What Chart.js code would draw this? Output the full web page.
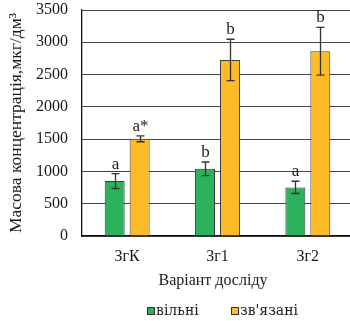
<!DOCTYPE html>
<html>
<head>
<meta charset="utf-8">
<script src="https://cdn.jsdelivr.net/npm/chart.js@4/dist/chart.umd.min.js"></script>
<style>
  html, body { margin: 0; padding: 0; background: #fff; overflow: hidden; }
  #wrap { width: 360px; height: 321px; }
</style>
</head>
<body>
<div id="wrap"><canvas id="c" width="360" height="321"></canvas></div>
<script>
// Variants of the experiment
const categories = ['ЗгК', 'Зг1', 'Зг2'];
const seriesNames = ['вільні', "зв'язані"];

// Mass concentration, µg/dm³
const freeValues = [851, 1041, 753];
const freeErrors = [115, 105, 95];
const boundValues = [1505, 2727, 2861];
const boundErrors = [45, 320, 370];

// Significance letters above each bar
const freeLetters = ['a', 'b', 'a'];
const boundLetters = ['a*', 'b', 'b'];

// Value axis
const yMin = 0, yMax = 3500, yStep = 500;

const axisTitleY = 'Масова концентрація,мкг/дм³';
const axisTitleX = 'Варіант досліду';

const SERIF = '"Liberation Serif", "Times New Roman", serif';
const LEGEND_FONT = '"DejaVu Serif", serif';
const INK = '#1a1a1a';
const colors = ['#2cb25c', '#fdbb27'];

const errorBarsAndLetters = {
  id: 'errorBarsAndLetters',
  afterDatasetsDraw(chart) {
    const ctx = chart.ctx;
    const y = chart.scales.y;
    const errs = [freeErrors, boundErrors];
    const letters = [freeLetters, boundLetters];
    chart.data.datasets.forEach((ds, di) => {
      const meta = chart.getDatasetMeta(di);
      meta.data.forEach((bar, i) => {
        const v = ds.data[i];
        const e = errs[di][i];
        const yTop = y.getPixelForValue(v + e);
        const yBot = y.getPixelForValue(v - e);
        const x = Math.round(bar.x) + 0.5;
        ctx.save();
        ctx.strokeStyle = '#333';
        ctx.lineWidth = 1.3;
        ctx.beginPath();
        ctx.moveTo(x, yTop); ctx.lineTo(x, yBot);
        ctx.moveTo(x - 4, yTop); ctx.lineTo(x + 4, yTop);
        ctx.moveTo(x - 4, yBot); ctx.lineTo(x + 4, yBot);
        ctx.stroke();
        ctx.fillStyle = INK;
        ctx.font = '17px ' + SERIF;
        ctx.textAlign = 'center';
        ctx.textBaseline = 'alphabetic';
        ctx.fillText(letters[di][i], x, yTop - 5);
        ctx.restore();
      });
    });
  },
  afterDraw(chart) {
    const ctx = chart.ctx;
    ctx.save();
    ctx.fillStyle = INK;
    ctx.font = '16px ' + SERIF;
    ctx.textAlign = 'center';
    ctx.textBaseline = 'middle';
    ctx.fillText(axisTitleX, 213, 281);
    // legend
    const keyX = [147, 231];
    chart.data.datasets.forEach((ds, di) => {
      const kx = keyX[di];
      ctx.fillStyle = ds.backgroundColor;
      ctx.fillRect(kx + 0.5, 307.5, 7, 7);
      ctx.strokeStyle = '#333';
      ctx.lineWidth = 1;
      ctx.strokeRect(kx + 0.5, 307.5, 7, 7);
      ctx.fillStyle = INK;
      ctx.textAlign = 'left';
      ctx.font = '14px ' + LEGEND_FONT;
      ctx.fillText(ds.label, kx + 9, 311);
    });
    ctx.restore();
  }
};

new Chart(document.getElementById('c'), {
  type: 'bar',
  data: {
    labels: categories,
    datasets: [
      { label: seriesNames[0], data: freeValues, backgroundColor: colors[0],
        borderColor: '#3a3a3a', borderWidth: 1 },
      { label: seriesNames[1], data: boundValues, backgroundColor: colors[1],
        borderColor: '#3a3a3a', borderWidth: 1 }
    ]
  },
  options: {
    responsive: false,
    animation: false,
    devicePixelRatio: 1,
    categoryPercentage: 0.5525,
    barPercentage: 0.8,
    layout: { padding: { left: 0, right: 7, top: 10, bottom: 0 } },
    plugins: {
      legend: { display: false },
      tooltip: { enabled: false }
    },
    scales: {
      x: {
        grid: { display: false, drawTicks: false },
        border: { color: '#111', width: 1.3 },
        ticks: { color: INK, font: { family: SERIF, size: 16 }, padding: 11, maxRotation: 0 },
        afterFit(scale) { scale.height = 85; scale.paddingLeft = 0; scale.paddingRight = 0; }
      },
      y: {
        min: yMin, max: yMax,
        grid: { color: '#444', lineWidth: 1, drawTicks: false },
        border: { color: '#111', width: 1.3 },
        ticks: { stepSize: yStep, color: INK, font: { family: SERIF, size: 16 }, padding: 14,
                 callback: (v) => String(v) },
        title: { display: true, text: axisTitleY, color: INK,
                 font: { family: SERIF, size: 17.5 }, padding: { top: 6, bottom: 0 } },
        afterFit(scale) { scale.width = 82; scale.paddingTop = 0; scale.paddingBottom = 0; }
      }
    }
  },
  plugins: [errorBarsAndLetters]
});
</script>
</body>
</html>
